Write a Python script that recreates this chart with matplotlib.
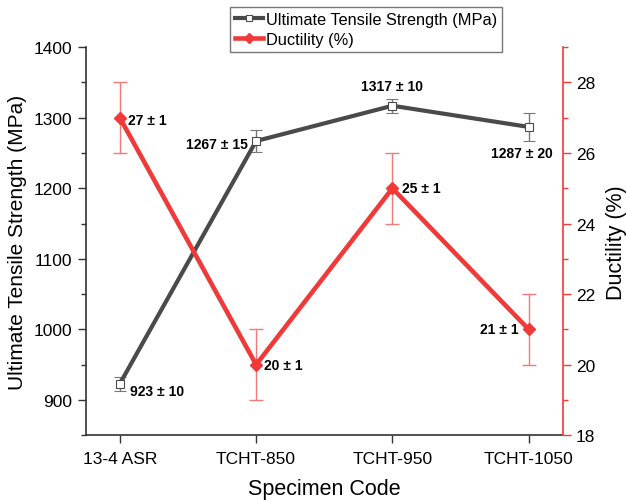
import matplotlib.pyplot as plt
from matplotlib.lines import Line2D
import numpy as np

plt.rcParams['font.family'] = ['Liberation Sans', 'DejaVu Sans']

specimens = ["13-4 ASR", "TCHT-850", "TCHT-950", "TCHT-1050"]
uts = [923, 1267, 1317, 1287]
uts_err = [10, 15, 10, 20]
ductility = [27, 20, 25, 21]
ductility_err = [1, 1, 1, 1]

GRAY = "#4a4a4a"
RED = "#f03a3a"

x = np.arange(len(specimens))

fig = plt.figure(figsize=(6.26, 5.02), dpi=100)
ax = fig.add_axes([0.137, 0.131, 0.762, 0.773])
ax2 = ax.twinx()

ax.errorbar(x, uts, yerr=uts_err, color=GRAY, lw=3, marker="s", ms=6,
            mfc="white", mec=GRAY, mew=0.8, ecolor="#777777", elinewidth=1,
            capsize=4, capthick=1)
ax2.errorbar(x, ductility, yerr=ductility_err, color=RED, lw=3.3, marker="D",
             ms=6, mfc=RED, mec=RED, ecolor="#f27a7a", elinewidth=1,
             capsize=5, capthick=1)

ax.set_xlim(-0.25, 3.25)
ax.set_ylim(850, 1400)
ax2.set_ylim(18, 29)
ax.set_xticks(x)
ax.set_xticklabels(specimens)
ax.set_yticks(np.arange(900, 1401, 100))
ax.set_yticks(np.arange(850, 1401, 50), minor=True)
ax2.set_yticks(np.arange(18, 29, 2))
ax2.set_yticks(np.arange(18, 30, 1), minor=True)
ax.tick_params(axis="both", labelsize=12.5, length=6, width=1, color="#333333")
ax.tick_params(axis="x", pad=5)
ax.tick_params(axis="y", which="minor", length=3.5, width=1, color="#333333")
ax2.tick_params(axis="y", which="major", labelsize=12.5, length=6, width=1, color=RED)
ax2.tick_params(axis="y", which="minor", length=3.5, width=1, color=RED)

for s in ["left", "bottom"]:
    ax.spines[s].set_color("#333333")
    ax.spines[s].set_linewidth(1.2)
ax.spines["top"].set_visible(False)
ax2.spines["top"].set_visible(False)
ax2.spines["left"].set_visible(False)
ax2.spines["bottom"].set_visible(False)
ax.spines["right"].set_visible(False)
ax2.spines["right"].set_color(RED)
ax2.spines["right"].set_linewidth(1.2)

ax.set_xlabel("Specimen Code", fontsize=15.5, labelpad=9)
ax.set_ylabel("Ultimate Tensile Strength (MPa)", fontsize=15, labelpad=5)
ax2.set_ylabel("Ductility (%)", fontsize=15.5, labelpad=8)

# value labels for each point
lab = dict(fontsize=10, fontweight="bold")
ax.annotate(f"{uts[0]} ± {uts_err[0]}", (x[0], uts[0]), xytext=(7, -5), textcoords="offset points", ha="left", va="center", **lab)
ax.annotate(f"{uts[1]} ± {uts_err[1]}", (x[1], uts[1]), xytext=(-6, -2), textcoords="offset points", ha="right", va="center", **lab)
ax.annotate(f"{uts[2]} ± {uts_err[2]}", (x[2], uts[2]), xytext=(0, 9), textcoords="offset points", ha="center", va="bottom", **lab)
ax.annotate(f"{uts[3]} ± {uts_err[3]}", (x[3], uts[3]), xytext=(-5, -14), textcoords="offset points", ha="center", va="top", **lab)
ax2.annotate(f"{ductility[0]} ± {ductility_err[0]}", (x[0], ductility[0]), xytext=(6, -1.5), textcoords="offset points", ha="left", va="center", **lab)
ax2.annotate(f"{ductility[1]} ± {ductility_err[1]}", (x[1], ductility[1]), xytext=(6, 0), textcoords="offset points", ha="left", va="center", **lab)
ax2.annotate(f"{ductility[2]} ± {ductility_err[2]}", (x[2], ductility[2]), xytext=(7, 0), textcoords="offset points", ha="left", va="center", **lab)
ax2.annotate(f"{ductility[3]} ± {ductility_err[3]}", (x[3], ductility[3]), xytext=(-7, 0), textcoords="offset points", ha="right", va="center", **lab)

handles = [
    Line2D([], [], color=GRAY, lw=3, marker="s", ms=5, mfc="white", mec=GRAY, mew=0.8),
    Line2D([], [], color=RED, lw=3.3, marker="D", ms=5, mfc=RED, mec=RED),
]
leg = fig.legend(handles, ["Ultimate Tensile Strength (MPa)", "Ductility (%)"],
                 loc="upper left", bbox_to_anchor=(0.367, 0.984), fontsize=11.8,
                 frameon=True, fancybox=False, edgecolor="#555555",
                 handlelength=1.7, handletextpad=0.2, borderpad=0.3,
                 labelspacing=0.3, borderaxespad=0, markerfirst=True)
leg.get_frame().set_linewidth(1)

fig.savefig("out.png", dpi=100)
